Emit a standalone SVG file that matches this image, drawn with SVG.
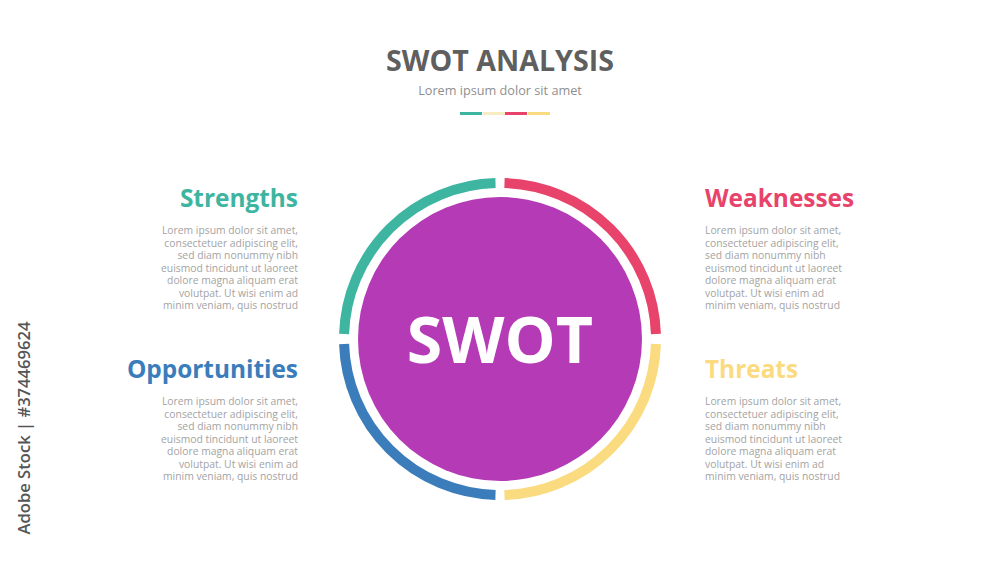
<svg xmlns="http://www.w3.org/2000/svg" width="1000" height="563" viewBox="0 0 1000 563">
<style>
text{font-family:"Open Sans","Liberation Sans",sans-serif}
.h{font-weight:700;font-size:24.4px}
.b{font-size:10.35px;fill:#a3a3a3}
.r{text-anchor:end}
.arc{fill:none;stroke-width:10;stroke-linecap:butt}
</style>
<rect width="1000" height="563" fill="#ffffff"/>
<g id="title">
<text x="500" y="71" text-anchor="middle" font-size="28.6" font-weight="700" fill="#5f5f5f">SWOT ANALYSIS</text>
<text x="500" y="95" text-anchor="middle" font-size="12.7" fill="#8f8f8f">Lorem ipsum dolor sit amet</text>
<rect x="460" y="112" width="22" height="3" fill="#3db5a0"/>
<rect x="483" y="112" width="22" height="3" fill="#f8edc2"/>
<rect x="505" y="112" width="22" height="3" fill="#e8436b"/>
<rect x="528" y="112" width="22" height="3" fill="#fadb7f"/>
</g>
<g id="ring">
<path class="arc" stroke="#3db5a0" d="M 344.08 334 A 156 156 0 0 1 495.5 183.06"/>
<path class="arc" stroke="#e8436b" d="M 504.5 183.06 A 156 156 0 0 1 655.92 334"/>
<path class="arc" stroke="#fadb7f" d="M 655.92 344 A 156 156 0 0 1 504.5 494.94"/>
<path class="arc" stroke="#3b7dbb" d="M 495.5 494.94 A 156 156 0 0 1 344.08 344"/>
</g>
<g id="center">
<circle cx="500" cy="339" r="142" fill="#b53ab5"/>
<text x="500" y="363" text-anchor="middle" font-size="64.4" font-weight="700" fill="#ffffff">SWOT</text>
</g>
<g id="strengths">
<text class="h r" x="298" y="207" fill="#3db5a0">Strengths</text>
<text class="b r" x="298" y="234">Lorem ipsum dolor sit amet,</text>
<text class="b r" x="298" y="246.5">consectetuer adipiscing elit,</text>
<text class="b r" x="298" y="259">sed diam nonummy nibh</text>
<text class="b r" x="298" y="271.5">euismod tincidunt ut laoreet</text>
<text class="b r" x="298" y="284">dolore magna aliquam erat</text>
<text class="b r" x="298" y="296.5">volutpat. Ut wisi enim ad</text>
<text class="b r" x="298" y="309">minim veniam, quis nostrud</text>
</g>
<g id="opportunities">
<text class="h r" x="298" y="378" fill="#3b7dbb">Opportunities</text>
<text class="b r" x="298" y="405">Lorem ipsum dolor sit amet,</text>
<text class="b r" x="298" y="417.5">consectetuer adipiscing elit,</text>
<text class="b r" x="298" y="430">sed diam nonummy nibh</text>
<text class="b r" x="298" y="442.5">euismod tincidunt ut laoreet</text>
<text class="b r" x="298" y="455">dolore magna aliquam erat</text>
<text class="b r" x="298" y="467.5">volutpat. Ut wisi enim ad</text>
<text class="b r" x="298" y="480">minim veniam, quis nostrud</text>
</g>
<g id="weaknesses">
<text class="h" x="705" y="207" fill="#e8436b">Weaknesses</text>
<text class="b" x="705" y="234">Lorem ipsum dolor sit amet,</text>
<text class="b" x="705" y="246.5">consectetuer adipiscing elit,</text>
<text class="b" x="705" y="259">sed diam nonummy nibh</text>
<text class="b" x="705" y="271.5">euismod tincidunt ut laoreet</text>
<text class="b" x="705" y="284">dolore magna aliquam erat</text>
<text class="b" x="705" y="296.5">volutpat. Ut wisi enim ad</text>
<text class="b" x="705" y="309">minim veniam, quis nostrud</text>
</g>
<g id="threats">
<text class="h" x="705" y="378" fill="#fadb7f">Threats</text>
<text class="b" x="705" y="405">Lorem ipsum dolor sit amet,</text>
<text class="b" x="705" y="417.5">consectetuer adipiscing elit,</text>
<text class="b" x="705" y="430">sed diam nonummy nibh</text>
<text class="b" x="705" y="442.5">euismod tincidunt ut laoreet</text>
<text class="b" x="705" y="455">dolore magna aliquam erat</text>
<text class="b" x="705" y="467.5">volutpat. Ut wisi enim ad</text>
<text class="b" x="705" y="480">minim veniam, quis nostrud</text>
</g>
<g id="watermark">
<text transform="translate(30 428) rotate(-90)" text-anchor="middle" font-size="16.6" font-weight="600" fill="#555555">Adobe Stock | #374469624</text>
</g>
</svg>
